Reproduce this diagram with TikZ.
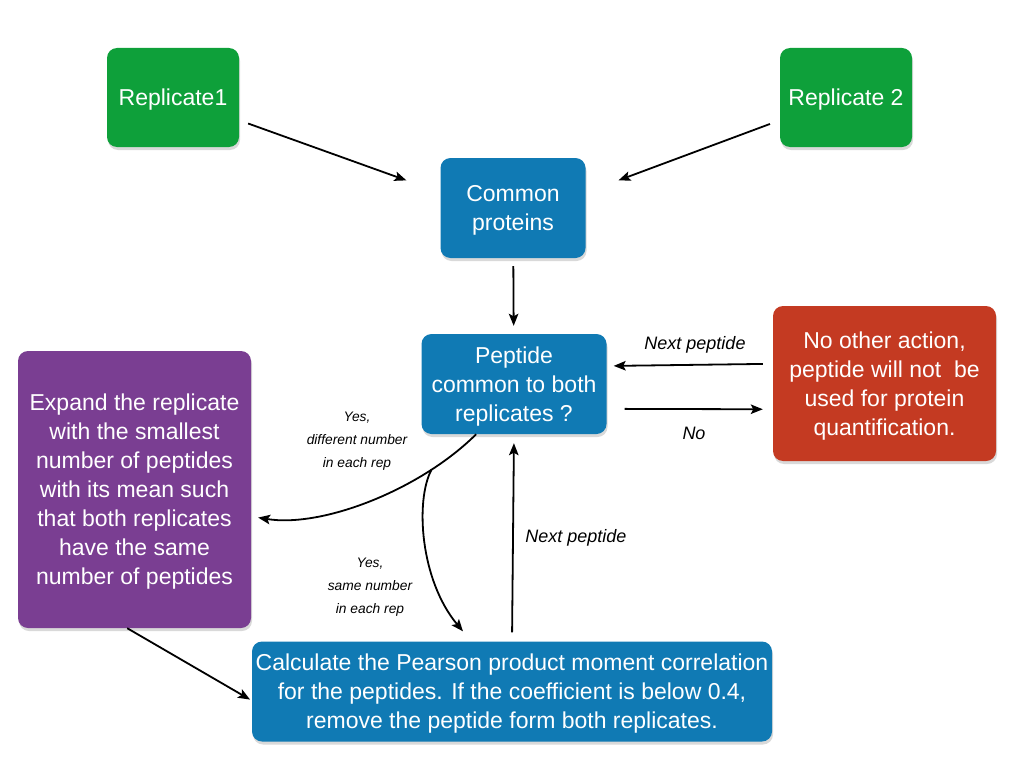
\documentclass[tikz,border=0pt]{standalone}
\usepackage{fontspec}
\setmainfont{Liberation Sans}
\usetikzlibrary{arrows.meta,shadows}

\definecolor{repgreen}{RGB}{14,160,58}
\definecolor{stepblue}{RGB}{16,122,180}
\definecolor{expandpurple}{RGB}{122,62,146}
\definecolor{dropred}{RGB}{196,58,34}

\begin{document}
\begin{tikzpicture}[x=1pt,y=-1pt,
	box/.style={rounded corners=10pt, text=white, align=center, inner sep=0pt,
		font=\fontsize{23}{29}\selectfont, text depth=-7.5pt,
		drop shadow={shadow xshift=1pt, shadow yshift=-3pt, opacity=0.3}},
	arr/.style={-{Stealth[length=12pt,width=9.5pt,inset=2.5pt]}, line width=1.8pt},
	lbl/.style={font=\itshape\fontsize{18}{22}\selectfont, align=center, inner sep=0pt},
	yeslbl/.style={font=\itshape\fontsize{13.8}{23}\selectfont, align=center, inner sep=0pt},
]

% frame %{{{1

	\useasboundingbox (0,0) rectangle (1015,768);

% boxes %{{{1

	\node[box, fill=repgreen, minimum width=132pt, minimum height=99pt]
		(rep1) at (173,97.5) {Replicate1};
	\node[box, fill=repgreen, minimum width=132pt, minimum height=99pt]
		(rep2) at (846,97.5) {Replicate 2};

	\node[box, fill=stepblue, minimum width=145pt, minimum height=100pt]
		(common) at (513,208) {Common\\proteins};

	\node[box, fill=stepblue, minimum width=185pt, minimum height=100pt]
		(pep) at (514,384) {Peptide\\common to both\\replicates ?};

	\node[box, fill=dropred, minimum width=223pt, minimum height=155pt]
		(drop) at (884.5,383.5) {No other action,\\peptide will not\ \ be\\used for protein\\quantification.};

	\node[box, fill=expandpurple, minimum width=233pt, minimum height=277pt]
		(expand) at (134.5,489.5) {Expand the replicate\\with the smallest\\number of peptides\\with its mean such\\that both replicates\\have the same\\number of peptides};

	\node[box, fill=stepblue, minimum width=520pt, minimum height=100pt]
		(calc) at (512,691.5) {Calculate the Pearson product moment correlation\\for the peptides. If the coefficient is below 0.4,\\remove the peptide form both replicates.};

% arrows %{{{1

	\draw[arr, shorten <=9.5pt, shorten >=36pt] (rep1.-19) -- (common.168);
	\draw[arr, shorten <=10.5pt, shorten >=35pt] (rep2.-161) -- (common.12);

	\draw[arr, shorten <=8pt, shorten >=8pt] (common) -- (pep);

	\draw[arr, shorten <=10pt, shorten >=7pt] (drop.170.6) -- (pep.11.6);
	\draw[arr, shorten <=18pt, shorten >=10pt] (pep.-15.7) -- (drop.193.4);

	\draw[arr, shorten <=9pt, shorten >=9pt] (calc.90) -- (pep.-90);

	\draw[arr, shorten >=7pt] (pep.-127)
		.. controls (420,490) and (322,528) ..
		coordinate[pos=0.23] (fork) (expand.-13);
	\draw[arr, shorten >=13pt] (fork)
		.. controls (415,500) and (420,580) .. (calc.129);

	\draw[arr, shorten >=2pt] (expand.-93.1) -- (calc.-178.1);

% labels %{{{1

	\node[lbl] (lnext1) at (695,345) {Next peptide};
	\node[lbl] (lno) at (694,433) {No};
	\node[lbl] (lnext2) at (576,538) {Next peptide};
	\node[yeslbl] (ldiff) at (357,441) {Yes,\\different number\\in each rep};
	\node[yeslbl] (lsame) at (370,587) {Yes,\\same number\\in each rep};

% closing %{{{1

\end{tikzpicture}
\end{document}
